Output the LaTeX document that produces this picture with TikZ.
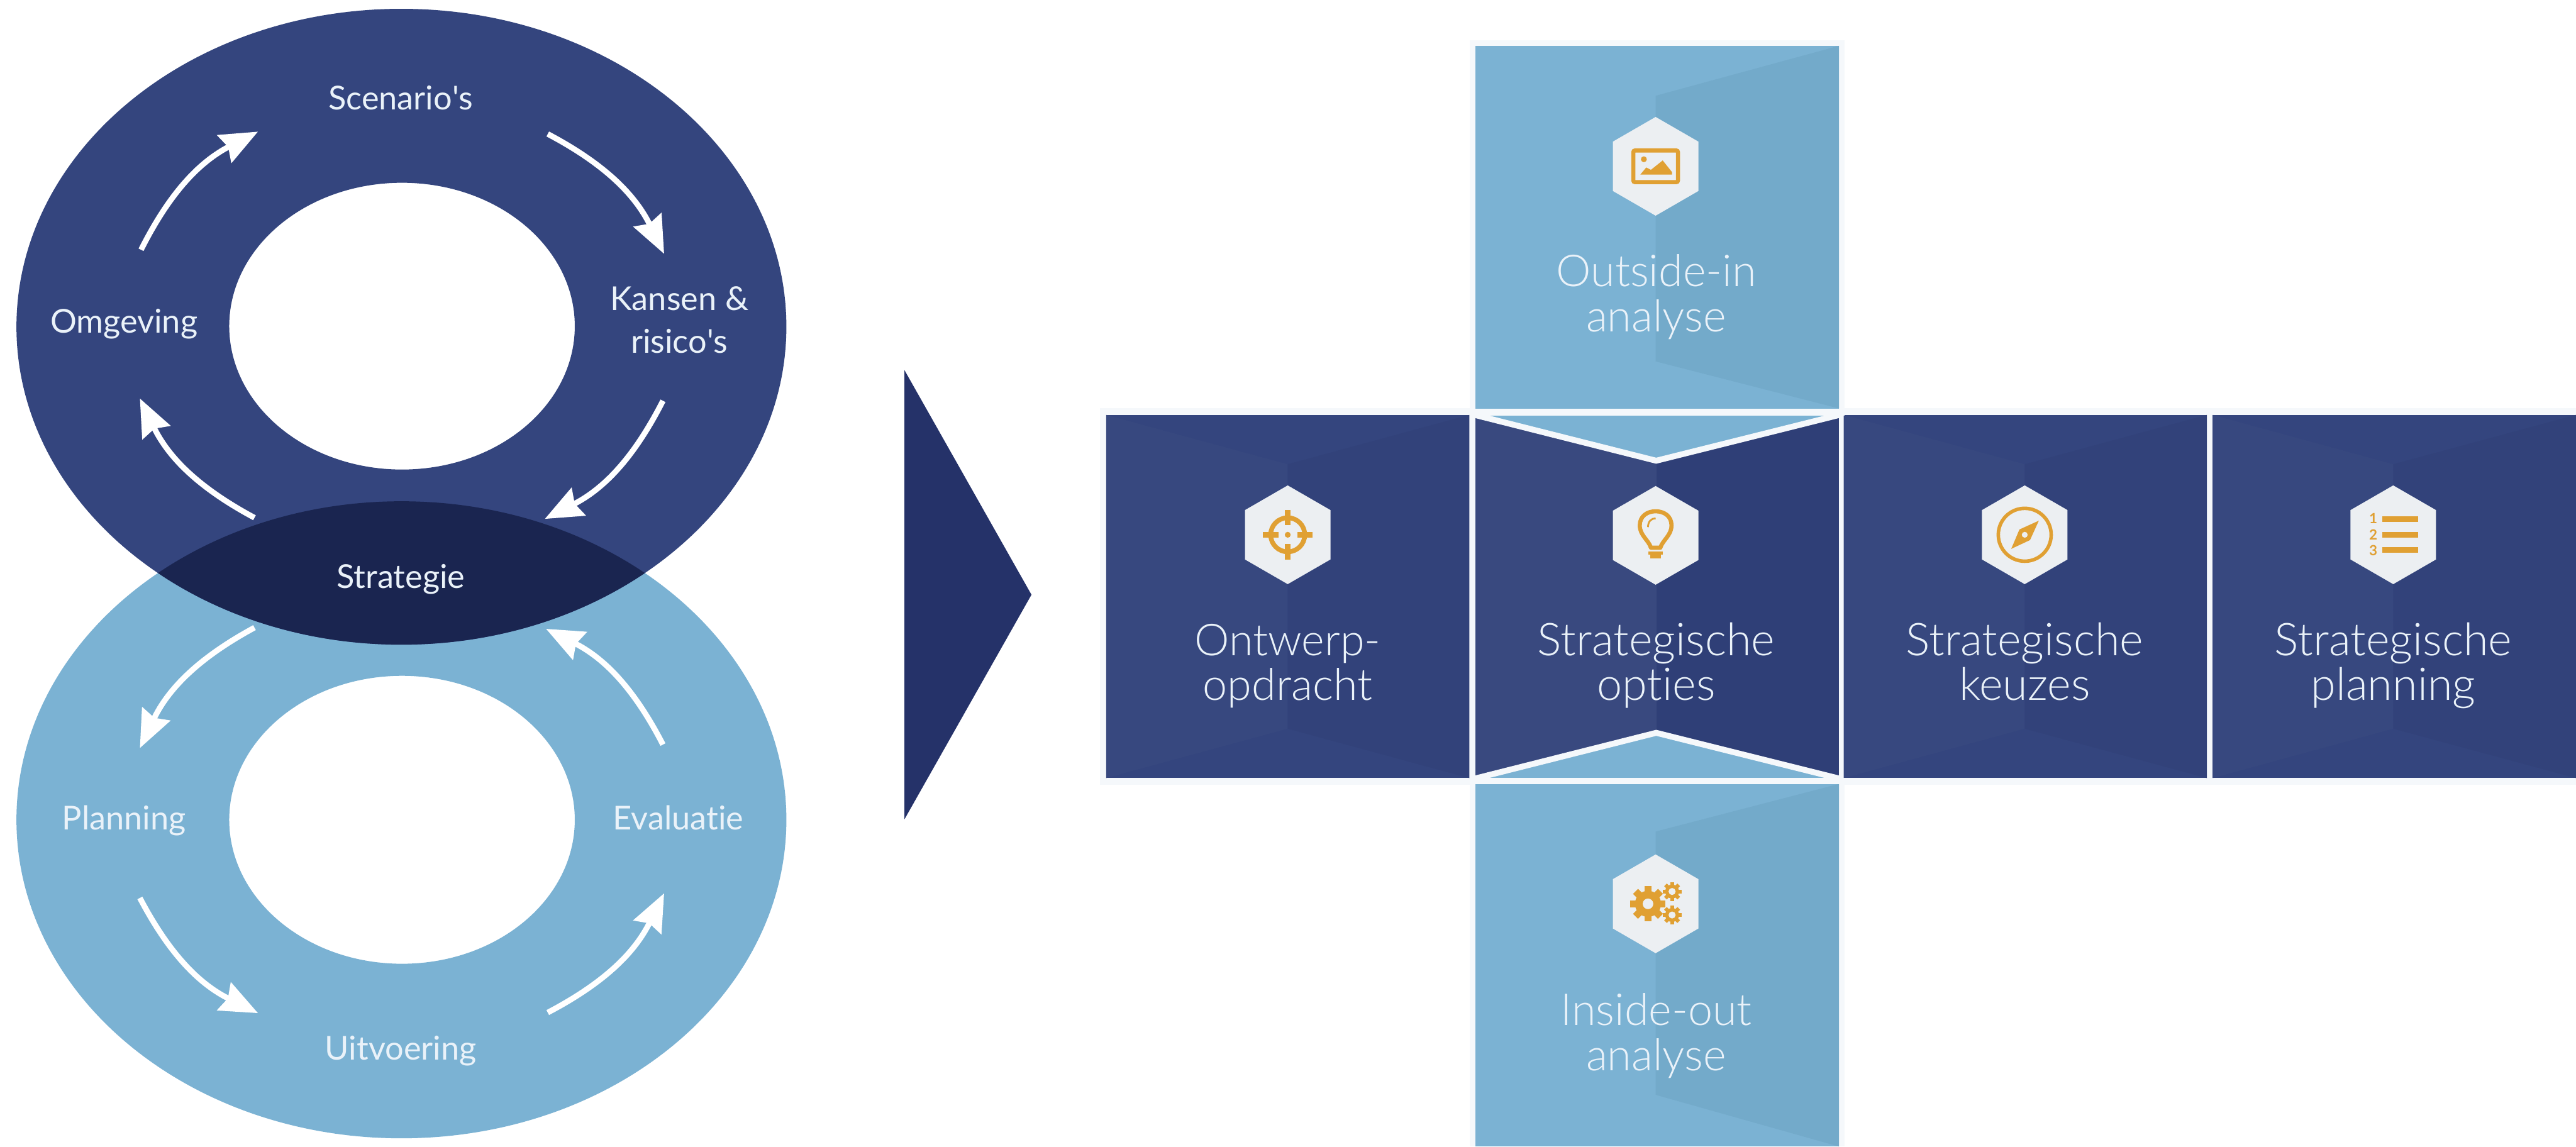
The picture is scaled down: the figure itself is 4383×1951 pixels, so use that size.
\documentclass[tikz,border=0pt]{standalone}
\usepackage{fontspec}
\setmainfont[Ligatures=NoCommon]{Lato}
\newfontfamily\lightf[Ligatures=NoCommon]{Lato Light}
\usetikzlibrary{arrows.meta,shapes.geometric}
\definecolor{navy}{HTML}{34457E}
\definecolor{sky}{HTML}{7BB2D3}
\definecolor{deep}{HTML}{1A2550}
\definecolor{chev}{HTML}{253269}
\definecolor{navyL}{HTML}{37487F}
\definecolor{navyD}{HTML}{32427A}
\definecolor{navyLL}{HTML}{39497F}
\definecolor{navyDD}{HTML}{2F3F77}
\definecolor{skyD}{HTML}{73AACA}
\definecolor{hexc}{HTML}{ECEFF2}
\definecolor{gold}{HTML}{E0A033}
\definecolor{txt}{HTML}{EAF2F9}
\definecolor{halo}{HTML}{F5F8FB}
\tikzset{
  x=1pt,y=-1pt,
  ringarrow/.style={draw=white,line width=9.5pt,-{Stealth[length=64pt,width=52pt,inset=7pt]}},
  ringlabel/.style={text=txt,anchor=base,align=center,inner sep=0pt,font=\fontsize{56}{73}\selectfont},
  boxlabel/.style={text=txt,anchor=base,align=center,inner sep=0pt,font=\lightf\fontsize{75}{77}\selectfont},
  widelabel/.style={boxlabel,font=\lightf\fontsize{77}{77}\selectfont},
  navybox/.style={rectangle,fill=navy,inner sep=0pt,outer sep=0pt},
  skybox/.style={rectangle,fill=sky,inner sep=0pt,outer sep=0pt},
  hexa/.style={regular polygon,regular polygon sides=6,shape border rotate=30,minimum size=168pt,inner sep=0pt,outer sep=0pt,fill=hexc},
  iconline/.style={draw=gold,line width=7pt},
  iconfill/.style={fill=gold},
}
\newcommand{\gearicon}[4]{%
  \fill[iconfill] (#1,#2) circle[radius=0.74*#3];
  \foreach \a in {0,45,...,315}
    \fill[iconfill,rotate around={\a:(#1,#2)}] (#1-0.2*#3,#2-#3) rectangle (#1+0.2*#3,#2-0.6*#3);
  \fill[hexc] (#1,#2) circle[radius=#4];
}
\begin{document}
\begin{tikzpicture}
\useasboundingbox[fill=white] (0,0) rectangle (4383,1951);

% ---- rings ----
\fill[sky,even odd rule] (683,1395) ellipse[x radius=655,y radius=542] (684,1395) ellipse[x radius=294,y radius=245];
\fill[navy,even odd rule] (683,556) ellipse[x radius=655,y radius=541] (684,555) ellipse[x radius=294,y radius=244];
\begin{scope}
  \clip (683,556) ellipse[x radius=655,y radius=541];
  \fill[deep] (683,1395) ellipse[x radius=655,y radius=542];
\end{scope}

\coordinate (a1s) at (240,425);  \coordinate (a1e) at (439,224);
\coordinate (a2s) at (932,228);  \coordinate (a2e) at (1130,432);
\coordinate (a3s) at (1128,682); \coordinate (a3e) at (927,883);
\coordinate (a4s) at (433,881);  \coordinate (a4e) at (238,678);
\coordinate (a5s) at (433,1068); \coordinate (a5e) at (238,1273);
\coordinate (a6s) at (238,1528); \coordinate (a6e) at (439,1724);
\coordinate (a7s) at (932,1723); \coordinate (a7e) at (1130,1520);
\coordinate (a8s) at (1128,1267);\coordinate (a8e) at (929,1070);
\draw[ringarrow] (a1s) to[bend left=18] (a1e);
\draw[ringarrow] (a2s) to[bend left=18] (a2e);
\draw[ringarrow] (a3s) to[bend left=18] (a3e);
\draw[ringarrow] (a4s) to[bend left=18] (a4e);
\draw[ringarrow] (a5s) to[bend right=18] (a5e);
\draw[ringarrow] (a6s) to[bend right=18] (a6e);
\draw[ringarrow] (a7s) to[bend right=18] (a7e);
\draw[ringarrow] (a8s) to[bend right=18] (a8e);

\node[ringlabel] (lscen) at (682,187) {Scenario\textquotesingle s};
\node[ringlabel] (lkans) at (1156,601) {Kansen \&\\risico\textquotesingle s};
\node[ringlabel] (lomge) at (211,567) {Omgeving};
\node[ringlabel] (lstra) at (682,1001) {Strategie};
\node[ringlabel] (lplan) at (211,1412) {Planning};
\node[ringlabel] (leval) at (1154,1412) {Evaluatie};
\node[ringlabel] (luitv) at (682,1804) {Uitvoering};

% ---- chevron ----
\fill[chev] (1539,630) -- (1755,1012) -- (1539,1394) -- cycle;

% ---- cross of boxes ----
\fill[halo] (1871,694) rectangle (4383,1335);
\fill[halo] (2501,68) rectangle (3138,1951);

\node[skybox,minimum width=619pt,minimum height=618pt] (btop) at (2819.5,387) {};
\node[skybox,minimum width=619pt,minimum height=617pt] (bbot) at (2819.5,1642.5) {};
\node[navybox,minimum width=618pt,minimum height=618pt] (bleft) at (2191,1015) {};
\node[navybox,minimum width=619pt,minimum height=618pt] (bmid) at (2819.5,1015) {};
\node[navybox,minimum width=618pt,minimum height=618pt] (bk) at (3446,1015) {};
\node[navybox,minimum width=619pt,minimum height=618pt] (bp) at (4073.5,1015) {};

% subtle facets
\fill[skyD] (2817,163) -- (3129,78) -- (3129,695) -- (2817,615) -- cycle;
\fill[skyD] (2817,1415) -- (3129,1334) -- (3129,1951) -- (2817,1863) -- cycle;
\fill[navyL] (1882,706) -- (2191,790) -- (2191,1240) -- (1882,1324) -- cycle;
\fill[navyD] (2191,790) -- (2500,706) -- (2500,1324) -- (2191,1240) -- cycle;
\fill[navyL] (3137,706) -- (3445,790) -- (3445,1240) -- (3137,1324) -- cycle;
\fill[navyD] (3445,790) -- (3755,706) -- (3755,1324) -- (3445,1240) -- cycle;
\fill[navyL] (3765,706) -- (4072,790) -- (4072,1240) -- (3765,1324) -- cycle;
\fill[navyD] (4072,790) -- (4383,706) -- (4383,1324) -- (4072,1240) -- cycle;
\fill[navyLL] (2510,707) rectangle (2818,1324);
\fill[navyDD] (2818,707) rectangle (3129,1324);

% hourglass tabs
\fill[sky] (2510,703) -- (2818,784) -- (3129,703) -- cycle;
\fill[sky] (2510,1328) -- (2818,1247) -- (3129,1328) -- cycle;
\draw[halo,line width=10pt,line join=miter] (2505,705) -- (2818,784) -- (3134,705);
\draw[halo,line width=10pt,line join=miter] (2505,1326) -- (2818,1247) -- (3134,1326);
\fill[halo] (2501,696) rectangle (3138,707);
\fill[halo] (2501,1324) rectangle (3138,1334);

% hexagons
\node[hexa] (hout) at (2817,283) {};
\node[hexa] (hin)  at (2817,1538) {};
\node[hexa] (hont) at (2191,910) {};
\node[hexa] (hmid) at (2817,911) {};
\node[hexa] (hkeu) at (3445,910) {};
\node[hexa] (hpla) at (4072,910) {};

% image icon
\begin{scope}[shift={(hout.center)}]
  \draw[iconline,rounded corners=3pt] (-38,-27) rectangle (38,27);
  \fill[iconfill] (-20,-12) circle[radius=5];
  \fill[iconfill] (-26,14) -- (-16,2) -- (-8,6) -- (12,-10) -- (28,10) -- (28,14) -- cycle;
\end{scope}
% bulb icon
\begin{scope}[shift={(hmid.center)}]
  \draw[iconline,line join=round] (-8,21) .. controls (-12,8) and (-27,0) .. (-27,-17)
     .. controls (-27,-33) and (-14,-41) .. (0,-41)
     .. controls (14,-41) and (27,-33) .. (27,-17)
     .. controls (27,0) and (12,8) .. (8,21) -- cycle;
  \draw[draw=gold,line width=3pt] (-13,-14) .. controls (-13,-24) and (-7,-29) .. (0,-29);
  \fill[iconfill] (-12,27) rectangle (12,33);
  \fill[iconfill] (-9,33) rectangle (9,39);
\end{scope}
% target icon
\begin{scope}[shift={(hont.center)}]
  \draw[iconline,line width=8pt] (0,0) circle[radius=29];
  \fill[iconfill] (0,0) circle[radius=5];
  \foreach \a in {0,90,180,270}{
    \fill[iconfill,rotate=\a] (-5,-42) rectangle (5,-16);
  }
\end{scope}
% compass icon
\begin{scope}[shift={(hkeu.center)}]
  \draw[iconline,line width=6pt] (0,0) circle[radius=45];
  \fill[iconfill] (24,-24) -- (9,9) -- (-23,24) -- (-9,-9) -- cycle;
  \fill[hexc] (0,0) circle[radius=5];
\end{scope}
% list icon
\begin{scope}[shift={(hpla.center)}]
  \foreach \y in {-27,0,26}{
    \fill[iconfill] (-19,\y-5) rectangle (42,\y+5);
  }
  \node[text=gold,inner sep=0pt,font=\bfseries\fontsize{24}{24}\selectfont] (num1) at (-34,-28) {1};
  \node[text=gold,inner sep=0pt,font=\bfseries\fontsize{24}{24}\selectfont] (num2) at (-34,0) {2};
  \node[text=gold,inner sep=0pt,font=\bfseries\fontsize{24}{24}\selectfont] (num3) at (-34,27) {3};
\end{scope}
% gears icon
\gearicon{2804}{1538}{30}{9}
\gearicon{2845}{1517}{16}{6}
\gearicon{2845}{1557}{16}{6}

% labels
\node[boxlabel] (tout) at (2818,564) {Outside-in\\analyse};
\node[boxlabel] (tin)  at (2818,1822) {Inside-out\\analyse};
\node[boxlabel] (tont) at (2191,1192) {Ontwerp-\\opdracht};
\node[widelabel] (tmid) at (2818,1192) {Strategische\\opties};
\node[widelabel] (tkeu) at (3445,1192) {Strategische\\keuzes};
\node[widelabel] (tpla) at (4072,1192) {Strategische\\planning};
\end{tikzpicture}
\end{document}
